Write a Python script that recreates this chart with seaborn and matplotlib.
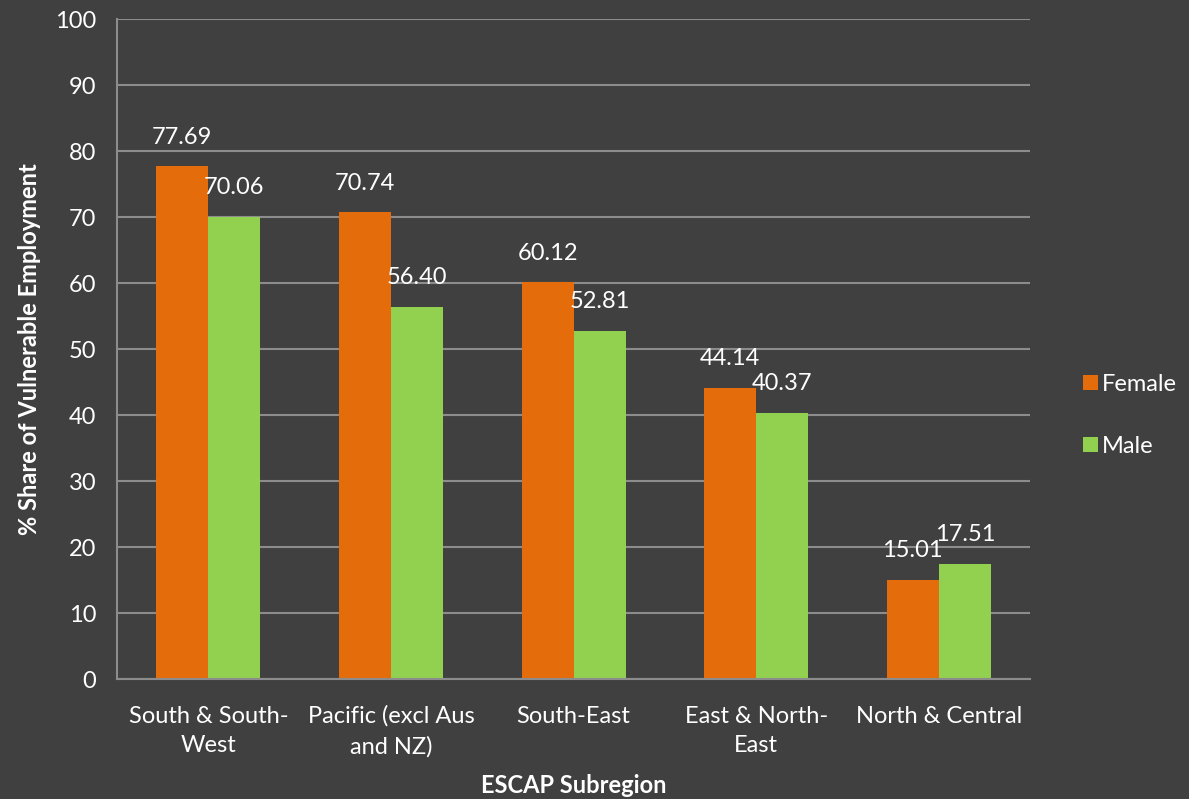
import numpy as np
import pandas as pd
import matplotlib
matplotlib.use("Agg")
import matplotlib.pyplot as plt
import seaborn as sns

# data
regions = ["South & South-\nWest", "Pacific (excl Aus\nand NZ)", "South-East",
           "East & North-\nEast", "North & Central"]
female = [77.69, 70.74, 60.12, 44.14, 15.01]
male = [70.06, 56.40, 52.81, 40.37, 17.51]
series = ["Female", "Male"]
colors = ["#E46C0A", "#92D050"]

df = pd.DataFrame({
    "region": regions * 2,
    "sex": ["Female"] * len(regions) + ["Male"] * len(regions),
    "value": female + male,
})

BG = "#404040"
GRID = "#8c8c8c"
FS = 17

sns.set_theme(style="dark")
plt.rcParams["font.family"] = ["Lato", "DejaVu Sans"]

fig = plt.figure(figsize=(11.89, 7.99), dpi=100, facecolor=BG)
ax = fig.add_axes([0.0984, 0.150, 0.7680, 0.826])
ax.set_facecolor(BG)

sns.barplot(data=df, x="region", y="value", hue="sex", hue_order=series,
            palette=colors, width=0.57, saturation=1, linewidth=0,
            ax=ax, legend=True)

# value labels above bars
for cont in ax.containers:
    for rect in cont:
        h = rect.get_height()
        ax.annotate(f"{h:.2f}", (rect.get_x() + rect.get_width() / 2, h),
                    xytext=(0, 21), textcoords="offset points",
                    ha="center", va="center", color="white", fontsize=FS)

ax.set_ylim(0, 100)
ax.set_xlim(-0.5, len(regions) - 0.5)
ax.set_yticks(np.arange(0, 101, 10))
ax.yaxis.grid(True, color=GRID, linewidth=1.5)
ax.xaxis.grid(False)
ax.set_axisbelow(True)

ax.set_xticks(range(len(regions)))
ax.set_xticklabels(regions, color="white", fontsize=FS, linespacing=1.5)
ax.tick_params(axis="x", which="major", length=0, pad=19)
ax.set_xticks(np.arange(-0.5, len(regions), 1), minor=True)
ax.tick_params(axis="x", which="minor", length=7, width=1.5, color=GRID, direction="out")
ax.tick_params(axis="y", length=7, width=1.5, color=GRID, direction="out",
               labelcolor="white", labelsize=FS, pad=8)

for s in ["top", "right"]:
    ax.spines[s].set_visible(False)
for s in ["left", "bottom"]:
    ax.spines[s].set_color(GRID)
    ax.spines[s].set_linewidth(1.5)

ax.set_xlabel("ESCAP Subregion", color="white", fontsize=FS, fontweight="bold", labelpad=12)
ax.set_ylabel("% Share of Vulnerable Employment", color="white", fontsize=FS,
              fontweight="bold", labelpad=10)

leg = ax.legend(loc="center left", bbox_to_anchor=(1.035, 0.40), frameon=False,
                fontsize=FS, handlelength=0.62, handleheight=0.62, handletextpad=0.15,
                labelspacing=1.75)
for t in leg.get_texts():
    t.set_color("white")

fig.savefig("out.png", dpi=100, facecolor=BG)
